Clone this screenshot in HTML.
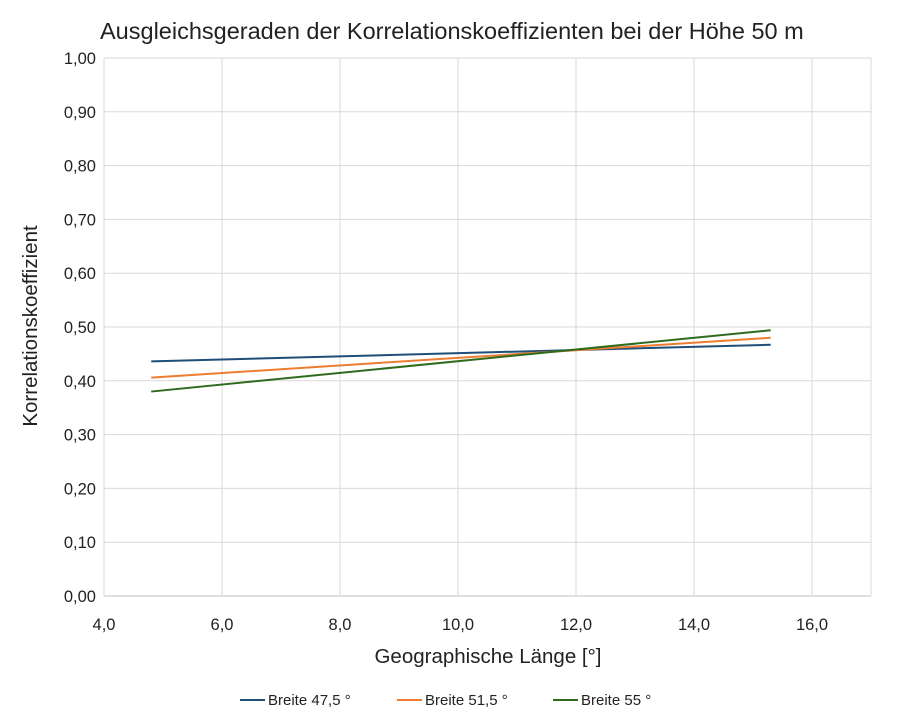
<!DOCTYPE html>
<html><head><meta charset="utf-8"><style>
body{margin:0;background:#fff;font-family:"Liberation Sans",sans-serif;}
svg text{font-family:"Liberation Sans",sans-serif;fill:#222;}
</style></head><body>
<svg width="902" height="723" xmlns="http://www.w3.org/2000/svg">
<text x="100" y="39" font-size="23.5">Ausgleichsgeraden der Korrelationskoeffizienten bei der Höhe 50 m</text>
<g id="grid"></g><g id="ticks"></g><g id="lines"></g>
<text x="488" y="663" font-size="20.5" text-anchor="middle">Geographische Länge [°]</text>
<text transform="translate(37,326) rotate(-90)" font-size="20.5" text-anchor="middle">Korrelationskoeffizient</text>
<g id="legend"></g>
</svg>
<script>
const seriesNames=["Breite 47,5 °","Breite 51,5 °","Breite 55 °"];
const seriesColors=["#1f4e79","#ed7d31","#2e6b1f"];
const xStart=[4.8,4.8,4.8];
const xEnd=[15.3,15.3,15.3];
const yStart=[0.436,0.406,0.380];
const yEnd=[0.467,0.480,0.494];
const xTicks=[4,6,8,10,12,14,16];
const yTicks=[0,0.1,0.2,0.3,0.4,0.5,0.6,0.7,0.8,0.9,1.0];
const NS="http://www.w3.org/2000/svg";
const X0=104,X1=871,XMIN=4,XMAX=17,Y0=596,Y1=58;
const sx=v=>X0+(v-XMIN)/(XMAX-XMIN)*(X1-X0);
const sy=v=>Y0-(v)/(1)*(Y0-Y1);
function mk(t,a,p){const e=document.createElementNS(NS,t);for(const k in a)e.setAttribute(k,a[k]);p.appendChild(e);return e;}
const g=document.getElementById('grid'),tk=document.getElementById('ticks'),ln=document.getElementById('lines'),lg=document.getElementById('legend');
yTicks.forEach(v=>{const l=mk('line',{x1:X0,x2:X1,y1:sy(v),y2:sy(v),stroke:v===0?'#bfbfbf':'#d9d9d9'},g);


const t=mk('text',{x:X0-8,y:sy(v)+6,'font-size':16.5,'text-anchor':'end'},tk);t.textContent=v.toFixed(2).replace('.',',');

});
xTicks.concat([17]).forEach(v=>{const l=mk('line',{x1:sx(v),x2:sx(v),y1:Y1,y2:Y0,stroke:'#d9d9d9'},g);

});
xTicks.forEach(v=>{const t=mk('text',{x:sx(v),y:Y0+34,'font-size':16.5,'text-anchor':'middle'},tk);t.textContent=v.toFixed(1).replace('.',',');

});
seriesNames.forEach((n,i)=>{const l=mk('line',{x1:sx(xStart[i]),y1:sy(yStart[i]),x2:sx(xEnd[i]),y2:sy(yEnd[i]),stroke:seriesColors[i],'stroke-width':2},ln);

});
const lx=[240,397,553];
seriesNames.forEach((n,i)=>{const l=mk('line',{x1:lx[i],x2:lx[i]+25,y1:700,y2:700,stroke:seriesColors[i],'stroke-width':2},lg);


const t=mk('text',{x:lx[i]+28,y:705,'font-size':15},lg);t.textContent=n;

});
</script>
</body></html>
